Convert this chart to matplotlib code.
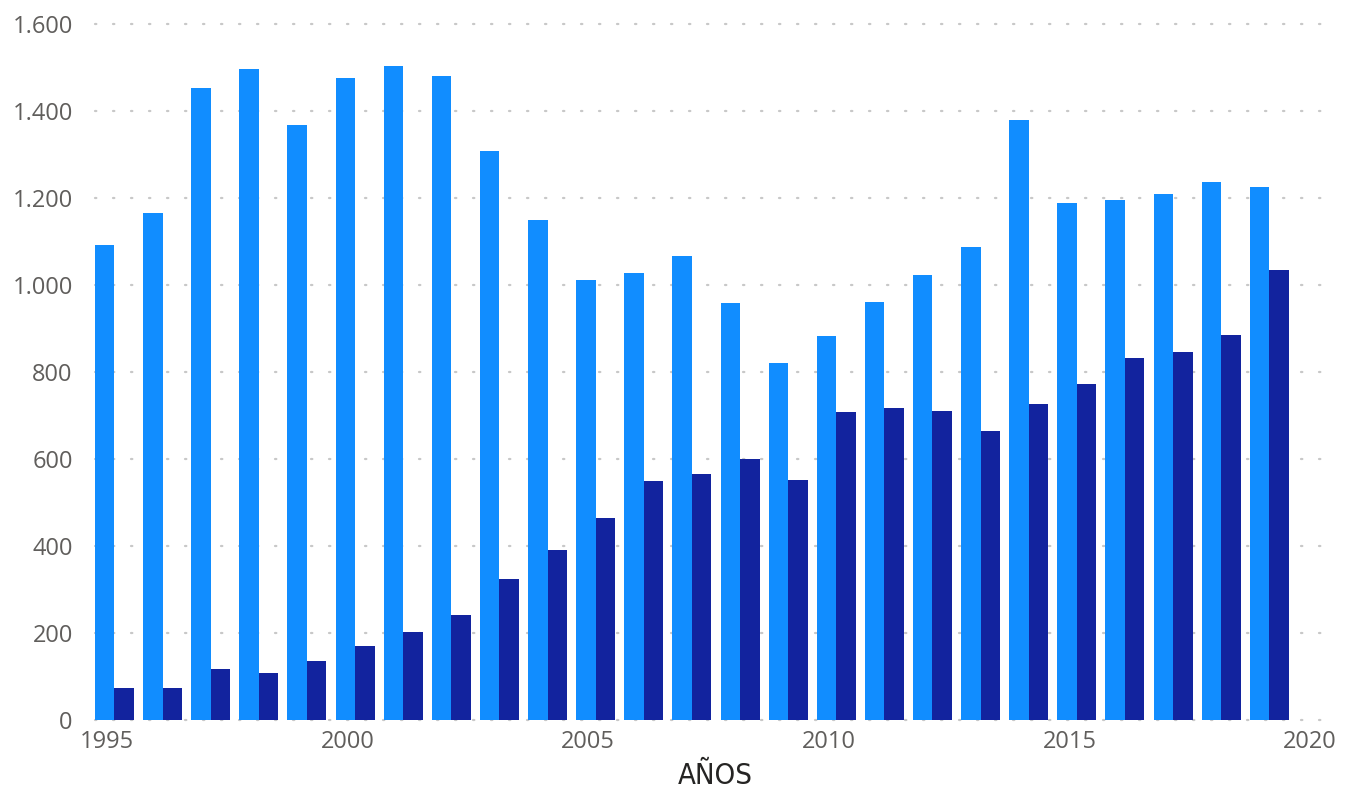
import matplotlib
matplotlib.use("Agg")
import matplotlib.pyplot as plt
from matplotlib.ticker import FuncFormatter
import numpy as np

years = list(range(1995, 2020))
serie_clara = [1093, 1165, 1453, 1496, 1367, 1476, 1503, 1480, 1308, 1149,
               1011, 1027, 1066, 958, 820, 882, 962, 1024, 1087, 1379,
               1188, 1195, 1209, 1236, 1225]
serie_oscura = [74, 74, 117, 108, 136, 170, 203, 242, 325, 391,
                465, 550, 566, 601, 552, 709, 718, 711, 665, 727,
                773, 833, 847, 886, 1034]
y_ticks = [0, 200, 400, 600, 800, 1000, 1200, 1400, 1600]
x_ticks = [1995, 2000, 2005, 2010, 2015, 2020]

W, H = 1348, 797
fig = plt.figure(figsize=(W / 100, H / 100), dpi=100)
ax = fig.add_axes([95 / W, (H - 720) / H, (1335 - 95) / W, (720 - 24) / H])

x = np.array(years, dtype=float)
bw = 0.405
ax.bar(x - 0.25, serie_clara, width=bw, align="edge", color="#118DFF", zorder=3)
ax.bar(x - 0.25 + bw, serie_oscura, width=bw, align="edge", color="#12239E", zorder=3)

ax.set_xlim(1994.75, 2020.52)
ax.set_ylim(0, 1600)
ax.set_yticks(y_ticks)
ax.set_xticks(x_ticks)
ax.yaxis.set_major_formatter(FuncFormatter(lambda v, p: f"{int(v):,}".replace(",", ".")))

font = ["Open Sans", "DejaVu Sans"]
for lab in ax.get_yticklabels() + ax.get_xticklabels():
    lab.set_fontfamily(font)
    lab.set_fontsize(17)
    lab.set_color("#605E5C")
ax.tick_params(axis="both", length=0)
ax.tick_params(axis="y", pad=16)
ax.tick_params(axis="x", pad=7)

for v in y_ticks:
    ax.axhline(v, color="#C8C8C8", linewidth=1.6, linestyle=(0, (0.6, 7.5)),
               dash_capstyle="round", zorder=1, clip_on=False)

for s in ax.spines.values():
    s.set_visible(False)

ax.set_xlabel("AÑOS", fontfamily=["DejaVu Sans"], fontstretch="condensed",
              fontsize=21, color="#252423", labelpad=6)

fig.savefig("out.png", dpi=100)
